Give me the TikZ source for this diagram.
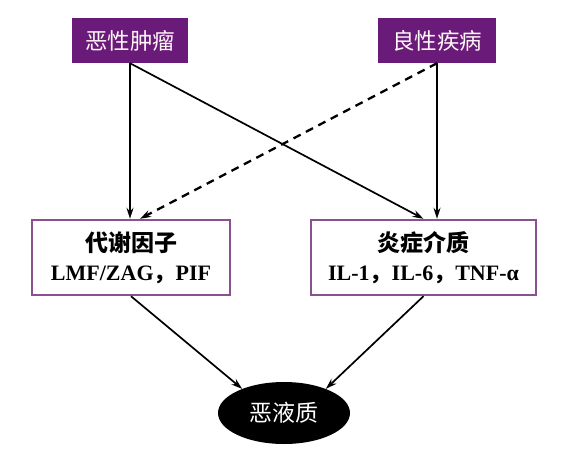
\documentclass[tikz,border=0pt]{standalone}
\usepackage{fontspec}
\setmainfont{Liberation Serif}
\newfontfamily\cjk{Noto Sans CJK SC}
\usetikzlibrary{arrows.meta,shapes.geometric}
\definecolor{causepurple}{HTML}{6A1B7A}
\definecolor{framepurple}{HTML}{8A5090}
\tikzset{
  causebox/.style={fill=causepurple, text=white!85!pink, minimum width=116pt,
    minimum height=45pt, inner sep=0pt, font=\cjk\fontsize{22.5}{26}\selectfont},
  factorbox/.style={draw=framepurple, line width=2.4pt, fill=white, minimum height=75pt,
    inner sep=0pt, align=center, font=\fontsize{22}{29}\selectfont\bfseries},
  flow/.style={-{Stealth[length=11pt,width=7pt]}, line width=1.7pt},
}
\begin{document}
\begin{tikzpicture}[x=1pt,y=1pt]
\useasboundingbox (0,0) rectangle (584,-460);
\node[causebox] (mt) at (130,-40.5) {恶性肿瘤};
\node[causebox, minimum width=118pt] (bd) at (437,-40.5) {良性疾病};
\node[factorbox, minimum width=198pt] (mf) at (131,-257.5)
  {{\cjk\fontsize{23}{29}\selectfont 代谢因子}\\LMF/ZAG{\cjk ，}PIF};
\node[factorbox, minimum width=225pt] (im) at (423.5,-257.5)
  {{\cjk\fontsize{23}{29}\selectfont 炎症介质}\\IL-1{\cjk ，}IL-6{\cjk ，}TNF-α};
\node[ellipse, fill=black, text=white, minimum width=132pt, minimum height=62pt,
  inner sep=0pt, font=\cjk\fontsize{23}{26}\selectfont] (ca) at (284,-413) {恶液质};
\draw[flow] (mt.south) -- (mt.south |- mf.north);
\draw[flow] (mt.south) -- (im.north);
\draw[flow] (bd.south) -- (bd.south |- im.north);
\draw[flow, line width=2.3pt, dash pattern=on 8pt off 6pt] (bd.south) -- ([xshift=9pt]mf.north);
\draw[flow] (mf.south) -- (ca.150);
\draw[flow] (im.south) -- (ca.30);
\end{tikzpicture}
\end{document}
